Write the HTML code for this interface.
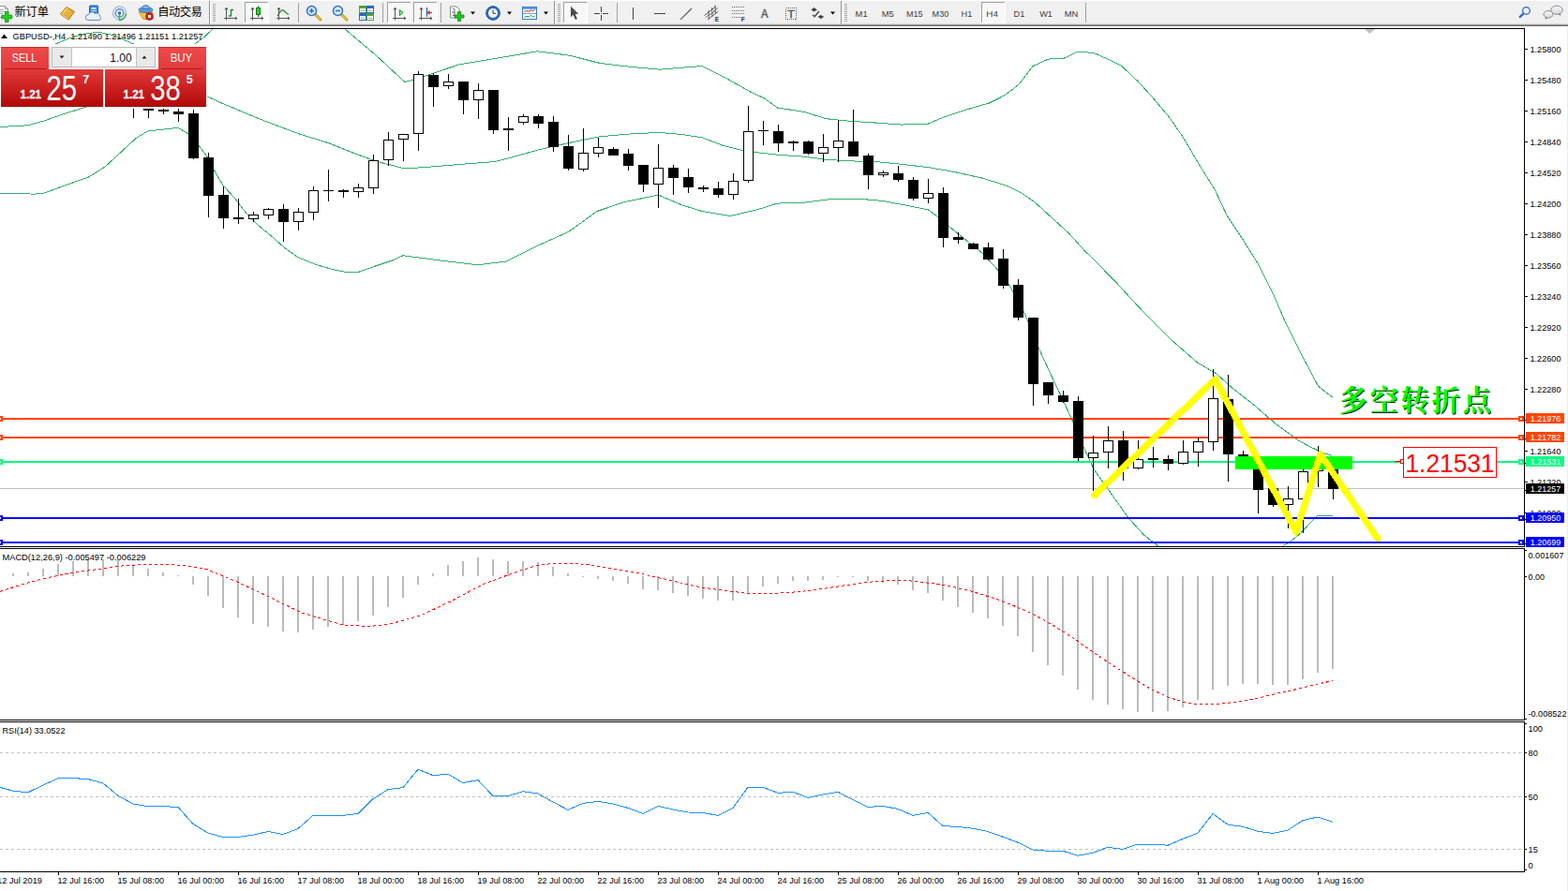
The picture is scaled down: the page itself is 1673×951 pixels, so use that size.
<!DOCTYPE html><html><head><meta charset="utf-8"><title>GBPUSD H4</title>
<style>html,body{margin:0;padding:0;background:#fff;overflow:hidden}svg{display:block}text{font-family:"Liberation Sans",sans-serif}</style></head><body>
<svg width="1673" height="951" viewBox="0 0 1673 951" font-family="Liberation Sans, sans-serif">
<defs>
<linearGradient id="gr" x1="0" y1="0" x2="0" y2="1"><stop offset="0" stop-color="#e03a3a"/><stop offset="0.5" stop-color="#cc2020"/><stop offset="1" stop-color="#b00808"/></linearGradient>
<linearGradient id="gt" x1="0" y1="0" x2="0" y2="1"><stop offset="0" stop-color="#f04a4a"/><stop offset="1" stop-color="#e23a3a"/></linearGradient>
<linearGradient id="gb" x1="0" y1="0" x2="0" y2="1"><stop offset="0" stop-color="#f4f4f4"/><stop offset="1" stop-color="#dcdcdc"/></linearGradient>
<clipPath id="cm"><rect x="0" y="31" width="1626" height="552"/></clipPath>
<linearGradient id="gbub" x1="0" y1="0" x2="0" y2="1"><stop offset="0" stop-color="#fafafa"/><stop offset="1" stop-color="#d4d4dc"/></linearGradient>
</defs>
<rect width="1673" height="951" fill="#fff"/>
<g shape-rendering="crispEdges">
<rect x="0" y="30" width="1627" height="1" fill="#000"/>
<rect x="1626" y="30" width="1" height="554" fill="#000"/>
<rect x="1626" y="585" width="1" height="184" fill="#000"/>
<rect x="1626" y="770" width="1" height="161" fill="#000"/>
<rect x="1672" y="28" width="1" height="923" fill="#ececec"/>
<rect x="0" y="583" width="1627" height="1" fill="#000"/>
<rect x="0" y="585" width="1627" height="1" fill="#000"/>
<rect x="0" y="768" width="1627" height="1" fill="#000"/>
<rect x="0" y="770" width="1627" height="1" fill="#000"/>
<rect x="0" y="930" width="1627" height="1" fill="#000"/>
</g>
<g clip-path="url(#cm)" fill="none" stroke="#34b06c" stroke-width="1" shape-rendering="crispEdges">
<polyline points="0.0,64.0 30.0,57.0 58.6,47.2 70.0,42.5 80.0,38.8 93.7,35.5 101.0,34.8 108.8,35.0 118.0,37.0 130.0,41.5 144.0,47.7 160.0,54.0 175.0,57.0 190.0,55.0 200.0,51.5 207.5,47.2 217.6,39.7 227.0,31.0 232.0,26.0"/>
<polyline points="363.0,26.0 368.0,31.0 400.0,58.0 432.0,87.6 445.0,84.0 490.0,68.8 540.0,60.5 573.5,54.8 607.0,59.1 640.4,67.5 673.9,71.5 704.0,74.2 727.4,72.2 749.2,70.5 774.3,83.2 801.1,98.3 814.5,104.3 829.5,115.0 858.0,119.4 881.4,126.7 908.2,129.4 935.0,131.1 961.8,133.1 990.2,132.1 1008.6,124.4 1035.4,115.7 1055.5,110.0 1072.2,101.6 1087.3,89.9 1101.8,70.8 1118.5,63.1 1135.3,62.1 1150.3,55.1 1167.0,56.5 1183.8,63.8 1197.2,70.8 1214.0,86.6 1230.7,105.0 1247.4,125.0 1262.5,146.8 1279.2,175.3 1296.0,202.0 1309.3,230.5 1326.0,255.6 1342.8,282.4 1357.9,312.5 1371.3,343.5 1388.0,377.0 1406.4,412.1 1421.5,423.9"/>
<polyline points="0.0,135.5 30.0,133.8 47.6,128.8 65.1,122.5 85.1,116.3 120.0,105.0 160.0,98.0 200.0,100.0 221.8,103.3 236.5,110.0 275.3,126.3 317.9,142.5 350.4,152.6 375.5,162.6 395.5,170.1 410.5,174.6 418.0,176.3 432.0,180.0 460.0,178.0 490.0,175.5 527.7,172.6 540.0,169.6 573.5,160.2 607.0,152.5 640.4,145.8 673.9,142.8 704.0,141.5 727.4,143.5 749.2,146.8 771.0,155.2 794.4,161.2 829.5,165.2 858.0,167.2 881.4,170.3 908.2,171.9 935.0,172.6 961.8,175.3 990.2,178.6 1018.7,183.6 1048.8,190.3 1075.6,198.7 1089.0,205.4 1103.5,215.4 1120.2,230.5 1140.3,248.9 1157.0,267.3 1173.8,284.0 1190.5,301.0 1207.2,319.2 1220.6,333.5 1250.8,363.6 1277.5,387.0 1297.6,398.7 1314.4,413.8 1337.8,432.2 1361.2,452.3 1385.3,470.0 1397.9,476.9 1413.0,483.9 1421.5,486.4"/>
<polyline points="0.0,206.4 37.5,207.1 47.6,205.9 70.1,197.6 95.1,188.8 112.6,177.6 130.2,161.3 145.2,147.5 157.7,140.0 175.2,138.0 190.2,136.3 200.3,142.5 212.8,156.3 220.3,166.3 229.0,182.6 237.8,197.6 250.3,211.4 262.8,227.6 275.3,240.2 290.4,252.7 302.9,263.9 317.9,274.7 337.9,282.7 355.4,287.7 368.0,290.2 383.0,290.2 400.5,284.0 418.0,278.2 430.0,272.8 470.0,278.0 510.0,282.8 540.0,279.0 573.5,262.3 607.0,247.2 637.0,225.5 667.2,215.4 702.3,208.1 727.4,218.8 749.2,225.5 779.3,230.5 807.8,223.8 829.5,217.1 858.0,216.1 888.1,212.4 914.9,212.1 941.7,214.4 968.5,219.5 990.2,223.8 1001.9,232.2 1015.3,243.9 1032.0,257.3 1048.8,270.7 1065.5,289.1 1076.5,303.5 1092.5,332.6 1107.6,370.1 1122.6,402.7 1142.6,445.2 1156.4,477.7 1167.0,500.8 1183.8,524.3 1203.9,552.7 1220.6,571.1 1235.7,582.8 1240.0,586.0"/>
<polyline points="1364.0,586.0 1368.9,582.9 1377.1,577.8 1387.8,569.0 1396.7,559.5 1405.5,550.7 1421.9,550.1"/>
</g>
<rect x="0" y="521" width="1626" height="1" fill="#c0c0c0" shape-rendering="crispEdges"/>
<rect x="0" y="446" width="1626" height="2" fill="#ff4500" shape-rendering="crispEdges"/>
<rect x="-3" y="444" width="6" height="6" fill="#ff4500" shape-rendering="crispEdges"/>
<rect x="-1" y="446" width="2" height="2" fill="#fff" shape-rendering="crispEdges"/>
<rect x="1620" y="444" width="6" height="6" fill="#ff4500" shape-rendering="crispEdges"/>
<rect x="1622" y="446" width="2" height="2" fill="#fff" shape-rendering="crispEdges"/>
<rect x="0" y="466" width="1626" height="2" fill="#ff4500" shape-rendering="crispEdges"/>
<rect x="-3" y="464" width="6" height="6" fill="#ff4500" shape-rendering="crispEdges"/>
<rect x="-1" y="466" width="2" height="2" fill="#fff" shape-rendering="crispEdges"/>
<rect x="1620" y="464" width="6" height="6" fill="#ff4500" shape-rendering="crispEdges"/>
<rect x="1622" y="466" width="2" height="2" fill="#fff" shape-rendering="crispEdges"/>
<rect x="0" y="492" width="1626" height="2" fill="#00ff7f" shape-rendering="crispEdges"/>
<rect x="-3" y="490" width="6" height="6" fill="#00ff7f" shape-rendering="crispEdges"/>
<rect x="-1" y="492" width="2" height="2" fill="#fff" shape-rendering="crispEdges"/>
<rect x="1620" y="490" width="6" height="6" fill="#00ff7f" shape-rendering="crispEdges"/>
<rect x="1622" y="492" width="2" height="2" fill="#fff" shape-rendering="crispEdges"/>
<rect x="0" y="552" width="1626" height="2" fill="#0000ff" shape-rendering="crispEdges"/>
<rect x="-3" y="550" width="6" height="6" fill="#0000ff" shape-rendering="crispEdges"/>
<rect x="-1" y="552" width="2" height="2" fill="#fff" shape-rendering="crispEdges"/>
<rect x="1620" y="550" width="6" height="6" fill="#0000ff" shape-rendering="crispEdges"/>
<rect x="1622" y="552" width="2" height="2" fill="#fff" shape-rendering="crispEdges"/>
<rect x="0" y="578" width="1626" height="2" fill="#0000ff" shape-rendering="crispEdges"/>
<rect x="-3" y="576" width="6" height="6" fill="#0000ff" shape-rendering="crispEdges"/>
<rect x="-1" y="578" width="2" height="2" fill="#fff" shape-rendering="crispEdges"/>
<rect x="1620" y="576" width="6" height="6" fill="#0000ff" shape-rendering="crispEdges"/>
<rect x="1622" y="578" width="2" height="2" fill="#fff" shape-rendering="crispEdges"/>
<g shape-rendering="crispEdges">
<rect x="142" y="116" width="1" height="10" fill="#000"/>
<rect x="158" y="116" width="1" height="10" fill="#000"/>
<rect x="153" y="116" width="11" height="2" fill="#000"/>
<rect x="174" y="116" width="1" height="6" fill="#000"/>
<rect x="169" y="117" width="11" height="2" fill="#000"/>
<rect x="190" y="116" width="1" height="14" fill="#000"/>
<rect x="185" y="119" width="11" height="3" fill="#000"/>
<rect x="206" y="117" width="1" height="53" fill="#000"/>
<rect x="201" y="121" width="11" height="48" fill="#000"/>
<rect x="222" y="163" width="1" height="69" fill="#000"/>
<rect x="217" y="168" width="11" height="41" fill="#000"/>
<rect x="238" y="199" width="1" height="45" fill="#000"/>
<rect x="233" y="208" width="11" height="25" fill="#000"/>
<rect x="254" y="212" width="1" height="27" fill="#000"/>
<rect x="249" y="232" width="11" height="2" fill="#000"/>
<rect x="270" y="226" width="1" height="11" fill="#000"/>
<rect x="265" y="229" width="11" height="5" fill="#000"/>
<rect x="266" y="230" width="9" height="3" fill="#fff"/>
<rect x="286" y="222" width="1" height="12" fill="#000"/>
<rect x="281" y="223" width="11" height="7" fill="#000"/>
<rect x="282" y="224" width="9" height="5" fill="#fff"/>
<rect x="302" y="218" width="1" height="40" fill="#000"/>
<rect x="297" y="223" width="11" height="14" fill="#000"/>
<rect x="318" y="222" width="1" height="24" fill="#000"/>
<rect x="313" y="226" width="11" height="11" fill="#000"/>
<rect x="314" y="227" width="9" height="9" fill="#fff"/>
<rect x="334" y="199" width="1" height="36" fill="#000"/>
<rect x="329" y="203" width="11" height="24" fill="#000"/>
<rect x="330" y="204" width="9" height="22" fill="#fff"/>
<rect x="350" y="181" width="1" height="34" fill="#000"/>
<rect x="345" y="203" width="11" height="1" fill="#000"/>
<rect x="366" y="202" width="1" height="9" fill="#000"/>
<rect x="361" y="203" width="11" height="2" fill="#000"/>
<rect x="382" y="196" width="1" height="15" fill="#000"/>
<rect x="377" y="200" width="11" height="5" fill="#000"/>
<rect x="378" y="201" width="9" height="3" fill="#fff"/>
<rect x="398" y="165" width="1" height="42" fill="#000"/>
<rect x="393" y="171" width="11" height="30" fill="#000"/>
<rect x="394" y="172" width="9" height="28" fill="#fff"/>
<rect x="414" y="141" width="1" height="36" fill="#000"/>
<rect x="409" y="149" width="11" height="22" fill="#000"/>
<rect x="410" y="150" width="9" height="20" fill="#fff"/>
<rect x="430" y="143" width="1" height="29" fill="#000"/>
<rect x="425" y="143" width="11" height="6" fill="#000"/>
<rect x="426" y="144" width="9" height="4" fill="#fff"/>
<rect x="446" y="76" width="1" height="85" fill="#000"/>
<rect x="441" y="79" width="11" height="64" fill="#000"/>
<rect x="442" y="80" width="9" height="62" fill="#fff"/>
<rect x="462" y="78" width="1" height="36" fill="#000"/>
<rect x="457" y="80" width="11" height="13" fill="#000"/>
<rect x="478" y="79" width="1" height="16" fill="#000"/>
<rect x="473" y="87" width="11" height="5" fill="#000"/>
<rect x="474" y="88" width="9" height="3" fill="#fff"/>
<rect x="494" y="87" width="1" height="35" fill="#000"/>
<rect x="489" y="87" width="11" height="20" fill="#000"/>
<rect x="510" y="89" width="1" height="38" fill="#000"/>
<rect x="505" y="96" width="11" height="11" fill="#000"/>
<rect x="506" y="97" width="9" height="9" fill="#fff"/>
<rect x="526" y="96" width="1" height="47" fill="#000"/>
<rect x="521" y="96" width="11" height="43" fill="#000"/>
<rect x="542" y="125" width="1" height="36" fill="#000"/>
<rect x="537" y="137" width="11" height="2" fill="#000"/>
<rect x="558" y="122" width="1" height="11" fill="#000"/>
<rect x="553" y="124" width="11" height="7" fill="#000"/>
<rect x="554" y="125" width="9" height="5" fill="#fff"/>
<rect x="574" y="122" width="1" height="15" fill="#000"/>
<rect x="569" y="124" width="11" height="8" fill="#000"/>
<rect x="590" y="124" width="1" height="38" fill="#000"/>
<rect x="585" y="130" width="11" height="27" fill="#000"/>
<rect x="606" y="144" width="1" height="38" fill="#000"/>
<rect x="601" y="156" width="11" height="24" fill="#000"/>
<rect x="622" y="137" width="1" height="46" fill="#000"/>
<rect x="617" y="163" width="11" height="18" fill="#000"/>
<rect x="618" y="164" width="9" height="16" fill="#fff"/>
<rect x="638" y="147" width="1" height="21" fill="#000"/>
<rect x="633" y="157" width="11" height="7" fill="#000"/>
<rect x="634" y="158" width="9" height="5" fill="#fff"/>
<rect x="654" y="157" width="1" height="9" fill="#000"/>
<rect x="649" y="159" width="11" height="7" fill="#000"/>
<rect x="670" y="159" width="1" height="23" fill="#000"/>
<rect x="665" y="164" width="11" height="13" fill="#000"/>
<rect x="686" y="176" width="1" height="29" fill="#000"/>
<rect x="681" y="176" width="11" height="21" fill="#000"/>
<rect x="702" y="154" width="1" height="68" fill="#000"/>
<rect x="697" y="179" width="11" height="18" fill="#000"/>
<rect x="698" y="180" width="9" height="16" fill="#fff"/>
<rect x="718" y="176" width="1" height="32" fill="#000"/>
<rect x="713" y="179" width="11" height="11" fill="#000"/>
<rect x="734" y="180" width="1" height="26" fill="#000"/>
<rect x="729" y="189" width="11" height="11" fill="#000"/>
<rect x="750" y="198" width="1" height="7" fill="#000"/>
<rect x="745" y="200" width="11" height="2" fill="#000"/>
<rect x="766" y="194" width="1" height="17" fill="#000"/>
<rect x="761" y="201" width="11" height="7" fill="#000"/>
<rect x="782" y="185" width="1" height="28" fill="#000"/>
<rect x="777" y="193" width="11" height="15" fill="#000"/>
<rect x="778" y="194" width="9" height="13" fill="#fff"/>
<rect x="798" y="113" width="1" height="82" fill="#000"/>
<rect x="793" y="140" width="11" height="53" fill="#000"/>
<rect x="794" y="141" width="9" height="51" fill="#fff"/>
<rect x="814" y="129" width="1" height="26" fill="#000"/>
<rect x="809" y="139" width="11" height="1" fill="#000"/>
<rect x="830" y="133" width="1" height="29" fill="#000"/>
<rect x="825" y="140" width="11" height="13" fill="#000"/>
<rect x="846" y="150" width="1" height="11" fill="#000"/>
<rect x="841" y="151" width="11" height="2" fill="#000"/>
<rect x="862" y="150" width="1" height="15" fill="#000"/>
<rect x="857" y="151" width="11" height="13" fill="#000"/>
<rect x="878" y="143" width="1" height="30" fill="#000"/>
<rect x="873" y="157" width="11" height="7" fill="#000"/>
<rect x="874" y="158" width="9" height="5" fill="#fff"/>
<rect x="894" y="128" width="1" height="45" fill="#000"/>
<rect x="889" y="150" width="11" height="8" fill="#000"/>
<rect x="890" y="151" width="9" height="6" fill="#fff"/>
<rect x="910" y="117" width="1" height="50" fill="#000"/>
<rect x="905" y="151" width="11" height="16" fill="#000"/>
<rect x="926" y="164" width="1" height="38" fill="#000"/>
<rect x="921" y="166" width="11" height="21" fill="#000"/>
<rect x="942" y="182" width="1" height="7" fill="#000"/>
<rect x="937" y="184" width="11" height="3" fill="#000"/>
<rect x="938" y="185" width="9" height="1" fill="#fff"/>
<rect x="958" y="177" width="1" height="17" fill="#000"/>
<rect x="953" y="185" width="11" height="7" fill="#000"/>
<rect x="974" y="189" width="1" height="25" fill="#000"/>
<rect x="969" y="192" width="11" height="20" fill="#000"/>
<rect x="990" y="191" width="1" height="26" fill="#000"/>
<rect x="985" y="206" width="11" height="6" fill="#000"/>
<rect x="986" y="207" width="9" height="4" fill="#fff"/>
<rect x="1006" y="200" width="1" height="64" fill="#000"/>
<rect x="1001" y="206" width="11" height="48" fill="#000"/>
<rect x="1022" y="248" width="1" height="12" fill="#000"/>
<rect x="1017" y="253" width="11" height="3" fill="#000"/>
<rect x="1038" y="259" width="1" height="7" fill="#000"/>
<rect x="1033" y="260" width="11" height="6" fill="#000"/>
<rect x="1054" y="259" width="1" height="19" fill="#000"/>
<rect x="1049" y="264" width="11" height="13" fill="#000"/>
<rect x="1070" y="266" width="1" height="42" fill="#000"/>
<rect x="1065" y="276" width="11" height="29" fill="#000"/>
<rect x="1086" y="298" width="1" height="44" fill="#000"/>
<rect x="1081" y="304" width="11" height="35" fill="#000"/>
<rect x="1102" y="339" width="1" height="94" fill="#000"/>
<rect x="1097" y="339" width="11" height="71" fill="#000"/>
<rect x="1118" y="408" width="1" height="23" fill="#000"/>
<rect x="1113" y="408" width="11" height="14" fill="#000"/>
<rect x="1134" y="417" width="1" height="13" fill="#000"/>
<rect x="1129" y="422" width="11" height="7" fill="#000"/>
<rect x="1150" y="423" width="1" height="69" fill="#000"/>
<rect x="1145" y="428" width="11" height="61" fill="#000"/>
<rect x="1166" y="465" width="1" height="59" fill="#000"/>
<rect x="1161" y="483" width="11" height="6" fill="#000"/>
<rect x="1162" y="484" width="9" height="4" fill="#fff"/>
<rect x="1182" y="455" width="1" height="45" fill="#000"/>
<rect x="1177" y="470" width="11" height="13" fill="#000"/>
<rect x="1178" y="471" width="9" height="11" fill="#fff"/>
<rect x="1198" y="460" width="1" height="53" fill="#000"/>
<rect x="1193" y="470" width="11" height="30" fill="#000"/>
<rect x="1214" y="470" width="1" height="31" fill="#000"/>
<rect x="1209" y="490" width="11" height="10" fill="#000"/>
<rect x="1210" y="491" width="9" height="8" fill="#fff"/>
<rect x="1230" y="477" width="1" height="22" fill="#000"/>
<rect x="1225" y="489" width="11" height="2" fill="#000"/>
<rect x="1246" y="486" width="1" height="16" fill="#000"/>
<rect x="1241" y="490" width="11" height="5" fill="#000"/>
<rect x="1262" y="470" width="1" height="26" fill="#000"/>
<rect x="1257" y="482" width="11" height="13" fill="#000"/>
<rect x="1258" y="483" width="9" height="11" fill="#fff"/>
<rect x="1278" y="467" width="1" height="31" fill="#000"/>
<rect x="1273" y="471" width="11" height="12" fill="#000"/>
<rect x="1274" y="472" width="9" height="10" fill="#fff"/>
<rect x="1294" y="394" width="1" height="87" fill="#000"/>
<rect x="1289" y="425" width="11" height="47" fill="#000"/>
<rect x="1290" y="426" width="9" height="45" fill="#fff"/>
<rect x="1310" y="400" width="1" height="114" fill="#000"/>
<rect x="1305" y="426" width="11" height="59" fill="#000"/>
<rect x="1326" y="481" width="1" height="11" fill="#000"/>
<rect x="1321" y="485" width="11" height="2" fill="#000"/>
<rect x="1342" y="487" width="1" height="61" fill="#000"/>
<rect x="1337" y="487" width="11" height="36" fill="#000"/>
<rect x="1358" y="521" width="1" height="20" fill="#000"/>
<rect x="1353" y="521" width="11" height="18" fill="#000"/>
<rect x="1374" y="519" width="1" height="45" fill="#000"/>
<rect x="1369" y="532" width="11" height="7" fill="#000"/>
<rect x="1370" y="533" width="9" height="5" fill="#fff"/>
<rect x="1390" y="501" width="1" height="68" fill="#000"/>
<rect x="1385" y="503" width="11" height="30" fill="#000"/>
<rect x="1386" y="504" width="9" height="28" fill="#fff"/>
<rect x="1406" y="476" width="1" height="44" fill="#000"/>
<rect x="1401" y="496" width="11" height="7" fill="#000"/>
<rect x="1402" y="497" width="9" height="5" fill="#fff"/>
<rect x="1422" y="496" width="1" height="37" fill="#000"/>
<rect x="1417" y="496" width="11" height="26" fill="#000"/>
</g>
<rect x="1318" y="487" width="125" height="14" fill="#00ff00" shape-rendering="crispEdges"/>
<polyline points="1167.6,528.8 1296.5,404.8 1383,568 1408.6,484.6 1469.8,574.7" fill="none" stroke="#ffff00" stroke-width="7" stroke-linejoin="round" stroke-linecap="round" shape-rendering="crispEdges"/>
<rect x="1497.5" y="477.5" width="99" height="32" fill="#fff" stroke="#ff0000" stroke-width="1" shape-rendering="crispEdges"/>
<rect x="1488" y="492" width="9" height="1" fill="#ff0000" shape-rendering="crispEdges"/>
<rect x="1494.5" y="490.5" width="3" height="4" fill="#fff" stroke="#ff0000" stroke-width="1" shape-rendering="crispEdges"/>
<text x="1499.5" y="504" font-size="27" fill="#ff0000" textLength="95" lengthAdjust="spacingAndGlyphs" >1.21531</text>
<text x="1429.6 1462.6 1495.6 1528.6 1561.6" y="439.2" font-size="30.5" font-weight="bold" fill="#002800" style="font-family:'Liberation Serif','Noto Serif CJK SC',serif">多空转折点</text>
<text x="1428.4 1461.4 1494.4 1527.4 1560.4" y="438" font-size="30.5" font-weight="bold" fill="#00ff00" style="font-family:'Liberation Serif','Noto Serif CJK SC',serif">多空转折点</text>
<path d="M1456,31 L1467,31 L1461.5,36 Z" fill="#c0c0c0"/>
<g shape-rendering="crispEdges" fill="#000">
<rect x="1627" y="52" width="3" height="1"/>
<rect x="1627" y="85" width="3" height="1"/>
<rect x="1627" y="118" width="3" height="1"/>
<rect x="1627" y="151" width="3" height="1"/>
<rect x="1627" y="184" width="3" height="1"/>
<rect x="1627" y="217" width="3" height="1"/>
<rect x="1627" y="250" width="3" height="1"/>
<rect x="1627" y="283" width="3" height="1"/>
<rect x="1627" y="316" width="3" height="1"/>
<rect x="1627" y="349" width="3" height="1"/>
<rect x="1627" y="382" width="3" height="1"/>
<rect x="1627" y="415" width="3" height="1"/>
<rect x="1627" y="448" width="3" height="1"/>
<rect x="1627" y="481" width="3" height="1"/>
<rect x="1627" y="514" width="3" height="1"/>
<rect x="1627" y="547" width="3" height="1"/>
</g>
<text x="1632.5" y="55.5" font-size="9.3" fill="#000" textLength="33" lengthAdjust="spacingAndGlyphs" >1.25800</text>
<text x="1632.5" y="88.5" font-size="9.3" fill="#000" textLength="33" lengthAdjust="spacingAndGlyphs" >1.25480</text>
<text x="1632.5" y="121.5" font-size="9.3" fill="#000" textLength="33" lengthAdjust="spacingAndGlyphs" >1.25160</text>
<text x="1632.5" y="154.5" font-size="9.3" fill="#000" textLength="33" lengthAdjust="spacingAndGlyphs" >1.24840</text>
<text x="1632.5" y="187.5" font-size="9.3" fill="#000" textLength="33" lengthAdjust="spacingAndGlyphs" >1.24520</text>
<text x="1632.5" y="220.5" font-size="9.3" fill="#000" textLength="33" lengthAdjust="spacingAndGlyphs" >1.24200</text>
<text x="1632.5" y="253.5" font-size="9.3" fill="#000" textLength="33" lengthAdjust="spacingAndGlyphs" >1.23880</text>
<text x="1632.5" y="286.5" font-size="9.3" fill="#000" textLength="33" lengthAdjust="spacingAndGlyphs" >1.23560</text>
<text x="1632.5" y="319.5" font-size="9.3" fill="#000" textLength="33" lengthAdjust="spacingAndGlyphs" >1.23240</text>
<text x="1632.5" y="352.5" font-size="9.3" fill="#000" textLength="33" lengthAdjust="spacingAndGlyphs" >1.22920</text>
<text x="1632.5" y="385.5" font-size="9.3" fill="#000" textLength="33" lengthAdjust="spacingAndGlyphs" >1.22600</text>
<text x="1632.5" y="418.5" font-size="9.3" fill="#000" textLength="33" lengthAdjust="spacingAndGlyphs" >1.22280</text>
<text x="1632.5" y="451.5" font-size="9.3" fill="#000" textLength="33" lengthAdjust="spacingAndGlyphs" >1.21960</text>
<text x="1632.5" y="484.5" font-size="9.3" fill="#000" textLength="33" lengthAdjust="spacingAndGlyphs" >1.21640</text>
<text x="1632.5" y="517.5" font-size="9.3" fill="#000" textLength="33" lengthAdjust="spacingAndGlyphs" >1.21320</text>
<text x="1632.5" y="550.5" font-size="9.3" fill="#000" textLength="33" lengthAdjust="spacingAndGlyphs" >1.21000</text>
<rect x="1628" y="441" width="41" height="11" fill="#ff4500" shape-rendering="crispEdges"/>
<rect x="1627" y="448" width="1" height="1" fill="#000" shape-rendering="crispEdges"/>
<text x="1632.8" y="449.9" font-size="9.3" fill="#fff" textLength="32.5" lengthAdjust="spacingAndGlyphs" >1.21976</text>
<rect x="1628" y="461" width="41" height="11" fill="#ff4500" shape-rendering="crispEdges"/>
<rect x="1627" y="468" width="1" height="1" fill="#000" shape-rendering="crispEdges"/>
<text x="1632.8" y="469.9" font-size="9.3" fill="#fff" textLength="32.5" lengthAdjust="spacingAndGlyphs" >1.21782</text>
<rect x="1628" y="487" width="41" height="11" fill="#00ff7f" shape-rendering="crispEdges"/>
<rect x="1627" y="494" width="1" height="1" fill="#000" shape-rendering="crispEdges"/>
<text x="1632.8" y="495.9" font-size="9.3" fill="#fff" textLength="32.5" lengthAdjust="spacingAndGlyphs" >1.21531</text>
<rect x="1628" y="516" width="41" height="11" fill="#000" shape-rendering="crispEdges"/>
<rect x="1627" y="523" width="1" height="1" fill="#000" shape-rendering="crispEdges"/>
<text x="1632.8" y="524.9" font-size="9.3" fill="#fff" textLength="32.5" lengthAdjust="spacingAndGlyphs" >1.21257</text>
<rect x="1628" y="547" width="41" height="11" fill="#0000ff" shape-rendering="crispEdges"/>
<rect x="1627" y="554" width="1" height="1" fill="#000" shape-rendering="crispEdges"/>
<text x="1632.8" y="555.9" font-size="9.3" fill="#fff" textLength="32.5" lengthAdjust="spacingAndGlyphs" >1.20950</text>
<rect x="1628" y="573" width="41" height="11" fill="#0000ff" shape-rendering="crispEdges"/>
<rect x="1627" y="580" width="1" height="1" fill="#000" shape-rendering="crispEdges"/>
<text x="1632.8" y="581.9" font-size="9.3" fill="#fff" textLength="32.5" lengthAdjust="spacingAndGlyphs" >1.20699</text>
<g shape-rendering="crispEdges" fill="#bbbbbb">
<rect x="13" y="612" width="2" height="3"/>
<rect x="29" y="611" width="2" height="4"/>
<rect x="45" y="607" width="2" height="8"/>
<rect x="61" y="602" width="2" height="13"/>
<rect x="77" y="599" width="2" height="16"/>
<rect x="93" y="597" width="2" height="18"/>
<rect x="109" y="597" width="2" height="18"/>
<rect x="125" y="598" width="2" height="17"/>
<rect x="141" y="602" width="2" height="13"/>
<rect x="157" y="607" width="2" height="8"/>
<rect x="173" y="611" width="2" height="4"/>
<rect x="189" y="614" width="2" height="1"/>
<rect x="205" y="615" width="2" height="9"/>
<rect x="221" y="615" width="2" height="21"/>
<rect x="237" y="615" width="2" height="34"/>
<rect x="253" y="615" width="2" height="44"/>
<rect x="269" y="615" width="2" height="51"/>
<rect x="285" y="615" width="2" height="54"/>
<rect x="301" y="615" width="2" height="59"/>
<rect x="317" y="615" width="2" height="60"/>
<rect x="333" y="615" width="2" height="57"/>
<rect x="349" y="615" width="2" height="54"/>
<rect x="365" y="615" width="2" height="52"/>
<rect x="381" y="615" width="2" height="48"/>
<rect x="397" y="615" width="2" height="42"/>
<rect x="413" y="615" width="2" height="33"/>
<rect x="429" y="615" width="2" height="23"/>
<rect x="445" y="615" width="2" height="9"/>
<rect x="461" y="612" width="2" height="3"/>
<rect x="477" y="603" width="2" height="12"/>
<rect x="493" y="599" width="2" height="16"/>
<rect x="509" y="595" width="2" height="20"/>
<rect x="525" y="597" width="2" height="18"/>
<rect x="541" y="599" width="2" height="16"/>
<rect x="557" y="599" width="2" height="16"/>
<rect x="573" y="600" width="2" height="15"/>
<rect x="589" y="605" width="2" height="10"/>
<rect x="605" y="612" width="2" height="3"/>
<rect x="621" y="615" width="2" height="1"/>
<rect x="637" y="615" width="2" height="3"/>
<rect x="653" y="615" width="2" height="5"/>
<rect x="669" y="615" width="2" height="8"/>
<rect x="685" y="615" width="2" height="14"/>
<rect x="701" y="615" width="2" height="15"/>
<rect x="717" y="615" width="2" height="18"/>
<rect x="733" y="615" width="2" height="21"/>
<rect x="749" y="615" width="2" height="24"/>
<rect x="765" y="615" width="2" height="26"/>
<rect x="781" y="615" width="2" height="26"/>
<rect x="797" y="615" width="2" height="19"/>
<rect x="813" y="615" width="2" height="11"/>
<rect x="829" y="615" width="2" height="8"/>
<rect x="845" y="615" width="2" height="5"/>
<rect x="861" y="615" width="2" height="5"/>
<rect x="877" y="615" width="2" height="4"/>
<rect x="893" y="615" width="2" height="1"/>
<rect x="909" y="615" width="2" height="1"/>
<rect x="925" y="615" width="2" height="5"/>
<rect x="941" y="615" width="2" height="7"/>
<rect x="957" y="615" width="2" height="9"/>
<rect x="973" y="615" width="2" height="15"/>
<rect x="989" y="615" width="2" height="18"/>
<rect x="1005" y="615" width="2" height="26"/>
<rect x="1021" y="615" width="2" height="33"/>
<rect x="1037" y="615" width="2" height="39"/>
<rect x="1053" y="615" width="2" height="45"/>
<rect x="1069" y="615" width="2" height="53"/>
<rect x="1085" y="615" width="2" height="64"/>
<rect x="1101" y="615" width="2" height="81"/>
<rect x="1117" y="615" width="2" height="95"/>
<rect x="1133" y="615" width="2" height="106"/>
<rect x="1149" y="615" width="2" height="121"/>
<rect x="1165" y="615" width="2" height="132"/>
<rect x="1181" y="615" width="2" height="137"/>
<rect x="1197" y="615" width="2" height="142"/>
<rect x="1213" y="615" width="2" height="145"/>
<rect x="1229" y="615" width="2" height="145"/>
<rect x="1245" y="615" width="2" height="144"/>
<rect x="1261" y="615" width="2" height="140"/>
<rect x="1277" y="615" width="2" height="132"/>
<rect x="1293" y="615" width="2" height="121"/>
<rect x="1309" y="615" width="2" height="117"/>
<rect x="1325" y="615" width="2" height="115"/>
<rect x="1341" y="615" width="2" height="115"/>
<rect x="1357" y="615" width="2" height="116"/>
<rect x="1373" y="615" width="2" height="116"/>
<rect x="1389" y="615" width="2" height="110"/>
<rect x="1405" y="615" width="2" height="103"/>
<rect x="1421" y="615" width="2" height="99"/>
</g>
<polyline points="0.0,631.2 33.5,620.8 67.0,613.1 100.0,608.1 134.0,603.4 160.7,602.4 187.0,603.0 201.0,604.0 221.0,607.8 254.0,621.5 288.0,637.6 321.0,653.6 348.0,662.0 368.0,667.4 395.0,668.4 415.0,666.4 448.5,657.0 482.0,641.3 515.5,623.5 540.0,614.5 556.7,608.5 573.5,603.4 590.0,601.4 613.6,601.4 633.7,603.4 653.8,607.4 680.6,611.5 700.7,616.2 720.8,620.8 747.5,626.9 774.3,630.5 797.7,633.2 827.9,633.2 854.6,631.5 881.4,627.9 908.2,623.8 931.6,620.8 958.4,619.2 975.1,620.2 1008.6,624.5 1035.4,630.9 1062.2,638.9 1082.3,646.9 1101.3,655.1 1122.5,666.8 1143.8,680.0 1165.0,695.2 1186.3,709.7 1207.6,723.2 1228.9,736.0 1246.6,744.1 1264.3,749.8 1278.5,751.9 1296.2,751.9 1314.0,749.8 1342.3,745.2 1363.6,739.9 1384.8,735.3 1406.1,729.9 1422.0,726.7" fill="none" stroke="#ff0000" stroke-width="1" stroke-dasharray="3,3" shape-rendering="crispEdges"/>
<text x="1630.5" y="596" font-size="9.3" fill="#000" textLength="38" lengthAdjust="spacingAndGlyphs" >0.001607</text>
<text x="1630.5" y="618.7" font-size="9.3" fill="#000" textLength="17.5" lengthAdjust="spacingAndGlyphs" >0.00</text>
<text x="1630.5" y="764.5" font-size="9.3" fill="#000" textLength="41" lengthAdjust="spacingAndGlyphs" >-0.008522</text>
<g shape-rendering="crispEdges" fill="#000"><rect x="1627" y="587" width="2" height="1"/><rect x="1627" y="615" width="2" height="1"/><rect x="1627" y="767" width="2" height="1"/><rect x="1627" y="772" width="2" height="1"/><rect x="1627" y="803" width="2" height="1"/><rect x="1627" y="850" width="2" height="1"/><rect x="1627" y="906" width="2" height="1"/><rect x="1627" y="928" width="2" height="1"/></g>
<g shape-rendering="crispEdges" fill="none" stroke="#c0c0c0" stroke-dasharray="3,3">
<line x1="0" y1="803.5" x2="1626" y2="803.5"/>
<line x1="0" y1="850.5" x2="1626" y2="850.5"/>
<line x1="0" y1="906.5" x2="1626" y2="906.5"/>
</g>
<polyline points="0.0,840.3 14.0,844.3 30.0,845.7 46.0,838.0 62.0,830.6 78.0,830.6 94.0,831.6 110.0,836.0 126.0,849.4 142.0,858.0 158.0,860.7 174.0,860.7 190.0,861.4 206.0,879.5 222.0,889.2 238.0,893.5 254.0,893.5 270.0,891.2 286.0,887.5 302.0,890.5 318.0,884.5 334.0,870.4 350.0,870.4 366.0,870.4 382.0,868.4 398.0,852.7 414.0,842.7 430.0,840.6 446.0,821.2 462.0,827.6 478.0,826.3 494.0,835.6 510.0,832.6 526.0,849.7 542.0,849.7 558.0,844.7 574.0,847.0 590.0,856.0 606.0,864.4 622.0,857.4 638.0,855.4 654.0,858.0 670.0,862.4 686.0,868.4 702.0,860.4 718.0,864.0 734.0,867.0 750.0,867.4 766.0,870.4 782.0,862.4 798.0,840.3 814.0,840.3 830.0,846.3 846.0,845.3 862.0,851.4 878.0,848.0 894.0,845.3 910.0,853.4 926.0,861.4 942.0,860.4 958.0,863.4 974.0,870.4 990.0,867.4 1006.0,881.5 1022.0,882.5 1038.0,884.2 1054.0,887.5 1070.0,893.2 1086.0,899.2 1102.0,907.1 1118.0,908.2 1134.0,908.2 1150.0,913.2 1166.0,910.3 1182.0,904.3 1198.0,906.4 1214.0,901.1 1230.0,901.1 1246.0,902.2 1262.0,895.4 1278.0,889.1 1294.0,868.5 1310.0,880.2 1326.0,882.3 1342.0,887.3 1358.0,889.4 1374.0,886.2 1390.0,875.6 1406.0,872.0 1422.0,877.4" fill="none" stroke="#1e90ff" stroke-width="1" shape-rendering="crispEdges"/>
<text x="1630.5" y="780.5" font-size="9.3" fill="#000" >100</text>
<text x="1630.5" y="806.5" font-size="9.3" fill="#000" >80</text>
<text x="1630.5" y="854.0" font-size="9.3" fill="#000" >50</text>
<text x="1630.5" y="910.0" font-size="9.3" fill="#000" >15</text>
<text x="1630.5" y="927.0" font-size="9.3" fill="#000" >0</text>
<g shape-rendering="crispEdges" fill="#000">
<rect x="62" y="931" width="1" height="3"/>
<rect x="126" y="931" width="1" height="3"/>
<rect x="190" y="931" width="1" height="3"/>
<rect x="254" y="931" width="1" height="3"/>
<rect x="318" y="931" width="1" height="3"/>
<rect x="382" y="931" width="1" height="3"/>
<rect x="446" y="931" width="1" height="3"/>
<rect x="510" y="931" width="1" height="3"/>
<rect x="574" y="931" width="1" height="3"/>
<rect x="638" y="931" width="1" height="3"/>
<rect x="702" y="931" width="1" height="3"/>
<rect x="766" y="931" width="1" height="3"/>
<rect x="830" y="931" width="1" height="3"/>
<rect x="894" y="931" width="1" height="3"/>
<rect x="958" y="931" width="1" height="3"/>
<rect x="1022" y="931" width="1" height="3"/>
<rect x="1086" y="931" width="1" height="3"/>
<rect x="1150" y="931" width="1" height="3"/>
<rect x="1214" y="931" width="1" height="3"/>
<rect x="1278" y="931" width="1" height="3"/>
<rect x="1342" y="931" width="1" height="3"/>
<rect x="1406" y="931" width="1" height="3"/>
</g>
<text x="-3" y="943" font-size="8.2" fill="#000" textLength="48" lengthAdjust="spacingAndGlyphs" >12 Jul 2019</text>
<text x="61.5" y="943" font-size="8.2" fill="#000" textLength="49.5" lengthAdjust="spacingAndGlyphs" >12 Jul 16:00</text>
<text x="125.5" y="943" font-size="8.2" fill="#000" textLength="49.5" lengthAdjust="spacingAndGlyphs" >15 Jul 08:00</text>
<text x="189.5" y="943" font-size="8.2" fill="#000" textLength="49.5" lengthAdjust="spacingAndGlyphs" >16 Jul 00:00</text>
<text x="253.5" y="943" font-size="8.2" fill="#000" textLength="49.5" lengthAdjust="spacingAndGlyphs" >16 Jul 16:00</text>
<text x="317.5" y="943" font-size="8.2" fill="#000" textLength="49.5" lengthAdjust="spacingAndGlyphs" >17 Jul 08:00</text>
<text x="381.5" y="943" font-size="8.2" fill="#000" textLength="49.5" lengthAdjust="spacingAndGlyphs" >18 Jul 00:00</text>
<text x="445.5" y="943" font-size="8.2" fill="#000" textLength="49.5" lengthAdjust="spacingAndGlyphs" >18 Jul 16:00</text>
<text x="509.5" y="943" font-size="8.2" fill="#000" textLength="49.5" lengthAdjust="spacingAndGlyphs" >19 Jul 08:00</text>
<text x="573.5" y="943" font-size="8.2" fill="#000" textLength="49.5" lengthAdjust="spacingAndGlyphs" >22 Jul 00:00</text>
<text x="637.5" y="943" font-size="8.2" fill="#000" textLength="49.5" lengthAdjust="spacingAndGlyphs" >22 Jul 16:00</text>
<text x="701.5" y="943" font-size="8.2" fill="#000" textLength="49.5" lengthAdjust="spacingAndGlyphs" >23 Jul 08:00</text>
<text x="765.5" y="943" font-size="8.2" fill="#000" textLength="49.5" lengthAdjust="spacingAndGlyphs" >24 Jul 00:00</text>
<text x="829.5" y="943" font-size="8.2" fill="#000" textLength="49.5" lengthAdjust="spacingAndGlyphs" >24 Jul 16:00</text>
<text x="893.5" y="943" font-size="8.2" fill="#000" textLength="49.5" lengthAdjust="spacingAndGlyphs" >25 Jul 08:00</text>
<text x="957.5" y="943" font-size="8.2" fill="#000" textLength="49.5" lengthAdjust="spacingAndGlyphs" >26 Jul 00:00</text>
<text x="1021.5" y="943" font-size="8.2" fill="#000" textLength="49.5" lengthAdjust="spacingAndGlyphs" >26 Jul 16:00</text>
<text x="1085.5" y="943" font-size="8.2" fill="#000" textLength="49.5" lengthAdjust="spacingAndGlyphs" >29 Jul 08:00</text>
<text x="1149.5" y="943" font-size="8.2" fill="#000" textLength="49.5" lengthAdjust="spacingAndGlyphs" >30 Jul 00:00</text>
<text x="1213.5" y="943" font-size="8.2" fill="#000" textLength="49.5" lengthAdjust="spacingAndGlyphs" >30 Jul 16:00</text>
<text x="1277.5" y="943" font-size="8.2" fill="#000" textLength="49.5" lengthAdjust="spacingAndGlyphs" >31 Jul 08:00</text>
<text x="1341.5" y="943" font-size="8.2" fill="#000" textLength="49.5" lengthAdjust="spacingAndGlyphs" >1 Aug 00:00</text>
<text x="1405.5" y="943" font-size="8.2" fill="#000" textLength="49.5" lengthAdjust="spacingAndGlyphs" >1 Aug 16:00</text>
<text x="13.5" y="41.6" font-size="9.6" fill="#000" textLength="203" lengthAdjust="spacingAndGlyphs" xml:space="preserve">GBPUSD-,H4&#160;&#160;1.21490 1.21496 1.21151 1.21257</text>
<path d="M1,41 L8,41 L4.5,36.5 Z" fill="#000"/>
<text x="2.5" y="598" font-size="9.6" fill="#000" textLength="153" lengthAdjust="spacingAndGlyphs" >MACD(12,26,9) -0.005497 -0.006229</text>
<text x="2.5" y="783" font-size="9.6" fill="#000" textLength="67" lengthAdjust="spacingAndGlyphs" >RSI(14) 33.0522</text>
<rect x="0" y="0" width="1673" height="28" fill="#f0f0f0"/>
<rect x="0" y="0" width="1673" height="1" fill="#fff"/>
<rect x="0" y="25" width="1673" height="1" fill="#dcdcdc"/>
<rect x="0" y="26" width="1673" height="1" fill="#9a9a9a"/>
<rect x="0" y="27" width="1673" height="1" fill="#696969"/>
<rect x="0" y="28" width="1673" height="2" fill="#fff"/>
<g><path d="M-2,6.5 H5.5 L8.5,9.5 V18.5 H-2 Z" fill="#fff" stroke="#9a9a9a"/><path d="M5.5,6.5 V9.5 H8.5" fill="none" stroke="#9a9a9a"/><path d="M0,10.5 h4 M0,12.5 h5 M0,14.5 h3" stroke="#aaa"/><path d="M1.8,16.2 h3.7 v-3.7 h3.6 v3.7 h3.7 v3.6 h-3.7 v3.7 h-3.6 v-3.7 h-3.7 z" fill="#22d022" stroke="#0a8a0a" stroke-width="0.8"/></g>
<text x="15.5 27.6 39.7" y="16.8" font-size="12.3" fill="#000" style="font-family:'Liberation Sans','Noto Sans CJK SC',sans-serif">新订单</text>
<g><path d="M64.5,15 L71,7.5 L79.5,12.5 L73,21 Z" fill="#e8b23a" stroke="#a87408" stroke-width="1"/><path d="M64.5,15 L73,21 L73.5,19.5 L66,14" fill="#fbe9b0" stroke="#a87408" stroke-width="0.6"/><path d="M67,14 L72.5,8.5" stroke="#f8d878" stroke-width="1.5"/></g>
<g><rect x="95.5" y="6" width="9" height="10" rx="1" fill="#3a8be0" stroke="#1c5fb0"/><rect x="97.5" y="8" width="5" height="2" fill="#cfe6ff"/><rect x="97.5" y="11" width="5" height="1" fill="#cfe6ff"/><path d="M94,21.5 a3,3 0 0 1 0.5,-6 a4,4 0 0 1 7,-1 a3.3,3.3 0 0 1 5,3 a2.2,2.2 0 0 1 -0.5,4 z" fill="#e8f0fb" stroke="#6a8cc0" stroke-width="1"/></g>
<g fill="none"><circle cx="127.5" cy="14" r="7" stroke="#a9c4e4" stroke-width="1.4"/><circle cx="127.5" cy="14" r="4.3" stroke="#5b8fd0" stroke-width="1.4"/><circle cx="127.5" cy="14" r="1.8" fill="#2a62b8"/><path d="M127.5,14 V21.5 a7.5,7.5 0 0 0 7,-7" stroke="#4cb04c" stroke-width="1.6"/></g>
<g><path d="M148,13 L163,13 L158,20.5 L153,20.5 Z" fill="#f2c53d" stroke="#b8860b" stroke-width="0.8"/><ellipse cx="155.5" cy="10.5" rx="7.5" ry="3" fill="#5a9bdc" stroke="#2e6db4" stroke-width="0.8"/><path d="M151.5,9.5 a4,4 0 0 1 8,0 z" fill="#7db4ea" stroke="#2e6db4" stroke-width="0.8"/><circle cx="159.5" cy="17.5" r="4" fill="#e02020" stroke="#a00000" stroke-width="0.6"/><rect x="158" y="16" width="3" height="3" fill="#fff"/></g>
<text x="168.3 180.05 191.8 203.55" y="17" font-size="12.3" fill="#000" style="font-family:'Liberation Sans','Noto Sans CJK SC',sans-serif">自动交易</text>
<rect x="223" y="1" width="1" height="25" fill="#909090" shape-rendering="crispEdges"/><rect x="224" y="1" width="1" height="25" fill="#fff" shape-rendering="crispEdges"/>
<g fill="#a8a8a8" shape-rendering="crispEdges">
<rect x="227" y="4" width="3" height="1"/>
<rect x="227" y="6" width="3" height="1"/>
<rect x="227" y="8" width="3" height="1"/>
<rect x="227" y="10" width="3" height="1"/>
<rect x="227" y="12" width="3" height="1"/>
<rect x="227" y="14" width="3" height="1"/>
<rect x="227" y="16" width="3" height="1"/>
<rect x="227" y="18" width="3" height="1"/>
<rect x="227" y="20" width="3" height="1"/>
<rect x="227" y="22" width="3" height="1"/>
</g>
<g stroke="#555" stroke-width="1" fill="none"><path d="M241.5,8.5 V21.5 M239,19.5 H253"/><path d="M240,10.5 l1.5,-2.5 l1.5,2.5 M251,18 l2,1.5 l-2,1.5" /></g>
<path d="M246.5,10 V17.5 M246.5,10.5 h2.5 M244,17 h2.5" stroke="#1a8a1a" stroke-width="1.3" fill="none"/>
<rect x="261" y="2" width="26" height="23" fill="#f8f8f8" shape-rendering="crispEdges"/>
<rect x="261" y="24" width="26" height="1" fill="#fff" shape-rendering="crispEdges"/><rect x="286" y="2" width="1" height="23" fill="#fff" shape-rendering="crispEdges"/>
<rect x="261" y="2" width="25" height="1" fill="#a0a0a0" shape-rendering="crispEdges"/><rect x="261" y="2" width="1" height="22" fill="#a0a0a0" shape-rendering="crispEdges"/>
<g stroke="#555" stroke-width="1" fill="none"><path d="M269.5,8.5 V21.5 M267,19.5 H281"/><path d="M268,10.5 l1.5,-2.5 l1.5,2.5 M279,18 l2,1.5 l-2,1.5" /></g>
<path d="M275.5,6.5 V18" stroke="#0a6a0a" stroke-width="1"/><rect x="273.5" y="8.5" width="4" height="7" fill="#30d030" stroke="#0a7a0a" stroke-width="1"/>
<g stroke="#555" stroke-width="1" fill="none"><path d="M297.5,8.5 V21.5 M295,19.5 H309"/><path d="M296,10.5 l1.5,-2.5 l1.5,2.5 M307,18 l2,1.5 l-2,1.5" /></g>
<path d="M296,17 C299,12 301,9.5 303,11.5 S306,15 308,15.5" stroke="#1a8a1a" stroke-width="1.2" fill="none"/>
<rect x="318" y="3" width="1" height="21" fill="#a0a0a0" shape-rendering="crispEdges"/>
<g><path d="M336.5,15.5 L342.0,21" stroke="#c89a18" stroke-width="3" stroke-linecap="round"/><path d="M336.5,15.5 L342.0,21" stroke="#f4d868" stroke-width="1" stroke-linecap="round"/><circle cx="332.5" cy="11.5" r="5" fill="#dcecfc" stroke="#2f74c8" stroke-width="1.5"/>
<path d="M330.0,11.5 h5" stroke="#2f74c8" stroke-width="1.6"/>
<path d="M332.5,9 v5" stroke="#2f74c8" stroke-width="1.6"/>
</g>
<g><path d="M364.5,15.5 L370.0,21" stroke="#c89a18" stroke-width="3" stroke-linecap="round"/><path d="M364.5,15.5 L370.0,21" stroke="#f4d868" stroke-width="1" stroke-linecap="round"/><circle cx="360.5" cy="11.5" r="5" fill="#dcecfc" stroke="#2f74c8" stroke-width="1.5"/>
<path d="M358.0,11.5 h5" stroke="#2f74c8" stroke-width="1.6"/>
</g>
<g shape-rendering="crispEdges"><rect x="383" y="6" width="8" height="8" fill="#4ea62a"/><rect x="391" y="6" width="8" height="8" fill="#2d63d6"/><rect x="383" y="14" width="8" height="8" fill="#2d63d6"/><rect x="391" y="14" width="8" height="8" fill="#4ea62a"/><g fill="#fff"><rect x="384" y="9" width="6" height="4"/><rect x="392" y="9" width="6" height="4"/><rect x="384" y="17" width="6" height="4"/><rect x="392" y="17" width="6" height="4"/></g><g fill="#9ab"><rect x="385" y="11" width="4" height="1"/><rect x="393" y="11" width="4" height="1"/><rect x="385" y="19" width="4" height="1"/><rect x="393" y="19" width="4" height="1"/></g></g>
<rect x="408" y="3" width="1" height="21" fill="#a0a0a0" shape-rendering="crispEdges"/>
<rect x="413" y="2" width="26" height="23" fill="#f8f8f8" shape-rendering="crispEdges"/>
<rect x="413" y="24" width="26" height="1" fill="#fff" shape-rendering="crispEdges"/><rect x="438" y="2" width="1" height="23" fill="#fff" shape-rendering="crispEdges"/>
<rect x="413" y="2" width="25" height="1" fill="#a0a0a0" shape-rendering="crispEdges"/><rect x="413" y="2" width="1" height="22" fill="#a0a0a0" shape-rendering="crispEdges"/>
<g stroke="#555" stroke-width="1" fill="none"><path d="M421.5,8.5 V21.5 M419,19.5 H433"/><path d="M420,10.5 l1.5,-2.5 l1.5,2.5 M431,18 l2,1.5 l-2,1.5" /></g>
<path d="M426.3,10.3 L430,13.5 L426.3,16.7 Z" fill="#7cf08c" stroke="#10a010" stroke-width="1"/>
<rect x="441" y="2" width="26" height="23" fill="#f8f8f8" shape-rendering="crispEdges"/>
<rect x="441" y="24" width="26" height="1" fill="#fff" shape-rendering="crispEdges"/><rect x="466" y="2" width="1" height="23" fill="#fff" shape-rendering="crispEdges"/>
<rect x="441" y="2" width="25" height="1" fill="#a0a0a0" shape-rendering="crispEdges"/><rect x="441" y="2" width="1" height="22" fill="#a0a0a0" shape-rendering="crispEdges"/>
<g stroke="#555" stroke-width="1" fill="none"><path d="M449.5,8.5 V21.5 M447,19.5 H461"/><path d="M448,10.5 l1.5,-2.5 l1.5,2.5 M459,18 l2,1.5 l-2,1.5" /></g>
<path d="M455.5,8 V18" stroke="#1c5fb0" stroke-width="1.2"/><path d="M461,13.5 h-4.5 M458.5,11.5 l-2,2 l2,2" stroke="#d02020" stroke-width="1.1" fill="none"/>
<rect x="470" y="3" width="1" height="21" fill="#a0a0a0" shape-rendering="crispEdges"/>
<g><path d="M480.5,7 H487 L490.5,10.5 V19 H480.5 Z" fill="#fff" stroke="#8a8a8a"/><path d="M483,10 q1,-1.5 2,0 v6 q-1,1.5 -2,0 M482,13 h3" stroke="#555" fill="none" stroke-width="0.9"/><path d="M485,16 h3.5 v-3.5 h3 v3.5 h3.5 v3 h-3.5 v3.5 h-3 v-3.5 h-3.5 z" fill="#22c322" stroke="#0a8a0a" stroke-width="0.8"/></g>
<path d="M502,12.5 h5 l-2.5,3 z" fill="#000"/>
<g><circle cx="526" cy="14" r="7.3" fill="#2a6fd0" stroke="#174a9a" stroke-width="1"/><circle cx="526" cy="14" r="5" fill="#f4f8ff"/><path d="M526,10.5 V14.3 H529" stroke="#333" stroke-width="1" fill="none"/></g>
<path d="M541,12.5 h5 l-2.5,3 z" fill="#000"/>
<g shape-rendering="crispEdges"><rect x="557.5" y="7.5" width="15" height="13" fill="#fff" stroke="#3a7ad0"/><rect x="558" y="8" width="14" height="2" fill="#6aa0e8"/><rect x="558" y="14" width="14" height="1" fill="#6aa0e8"/></g><path d="M559.5,12.5 l2.5,-1 l2,0.8 l2.5,-1.3 l2,0.6 l2,-1" stroke="#c03018" fill="none" stroke-width="1"/><path d="M559.5,18.5 l2.5,-1.2 l2,0.8 l2.5,-1.6 l2,1.4 l2,-0.6" stroke="#1a9a1a" fill="none" stroke-width="1"/>
<path d="M580,12.5 h5 l-2.5,3 z" fill="#000"/>
<rect x="591" y="1" width="1" height="25" fill="#909090" shape-rendering="crispEdges"/><rect x="592" y="1" width="1" height="25" fill="#fff" shape-rendering="crispEdges"/>
<g fill="#a8a8a8" shape-rendering="crispEdges">
<rect x="595" y="4" width="3" height="1"/>
<rect x="595" y="6" width="3" height="1"/>
<rect x="595" y="8" width="3" height="1"/>
<rect x="595" y="10" width="3" height="1"/>
<rect x="595" y="12" width="3" height="1"/>
<rect x="595" y="14" width="3" height="1"/>
<rect x="595" y="16" width="3" height="1"/>
<rect x="595" y="18" width="3" height="1"/>
<rect x="595" y="20" width="3" height="1"/>
<rect x="595" y="22" width="3" height="1"/>
</g>
<rect x="601" y="2" width="26" height="23" fill="#f8f8f8" shape-rendering="crispEdges"/>
<rect x="601" y="24" width="26" height="1" fill="#fff" shape-rendering="crispEdges"/><rect x="626" y="2" width="1" height="23" fill="#fff" shape-rendering="crispEdges"/>
<rect x="601" y="2" width="25" height="1" fill="#a0a0a0" shape-rendering="crispEdges"/><rect x="601" y="2" width="1" height="22" fill="#a0a0a0" shape-rendering="crispEdges"/>
<path d="M609,6.8 V18.2 L611.6,15.8 L613.9,20.9 L615.9,20 L613.7,15 L617.2,14.8 Z" fill="#4a4a4a"/>
<path d="M641.5,7 V13 M641.5,16 V22 M634,14.5 H640 M643,14.5 H649" stroke="#444" stroke-width="1" shape-rendering="crispEdges"/><rect x="641" y="14" width="1" height="1" fill="#777"/>
<rect x="658" y="3" width="1" height="21" fill="#a0a0a0" shape-rendering="crispEdges"/>
<rect x="675" y="8" width="1" height="13" fill="#444" shape-rendering="crispEdges"/>
<rect x="698" y="14" width="12" height="1" fill="#444" shape-rendering="crispEdges"/>
<path d="M726,20.8 L738,9" stroke="#555" stroke-width="1.1"/>
<g stroke="#555" stroke-width="1" fill="none"><path d="M751.5,16.5 L764,6.8 M755,21 L766.5,12"/><path d="M756,11 L756.4,20.5 M759.6,8.2 L760,17.8 M763,5.6 L763.4,14.8" stroke-width="0.9"/><path d="M752.5,19 L758,14.6 M757.5,16 L763,11.6 M761,12.4 L766,8.4" stroke-width="0.8"/></g>
<text x="762.8" y="22.5" font-size="6.5" fill="#333" font-weight="bold" >E</text>
<g fill="#666" shape-rendering="crispEdges">
<rect x="781" y="7" width="1" height="1"/>
<rect x="783" y="7" width="1" height="1"/>
<rect x="785" y="7" width="1" height="1"/>
<rect x="787" y="7" width="1" height="1"/>
<rect x="789" y="7" width="1" height="1"/>
<rect x="791" y="7" width="1" height="1"/>
<rect x="793" y="7" width="1" height="1"/>
<rect x="781" y="11" width="1" height="1"/>
<rect x="783" y="11" width="1" height="1"/>
<rect x="785" y="11" width="1" height="1"/>
<rect x="787" y="11" width="1" height="1"/>
<rect x="789" y="11" width="1" height="1"/>
<rect x="791" y="11" width="1" height="1"/>
<rect x="793" y="11" width="1" height="1"/>
<rect x="781" y="14" width="1" height="1"/>
<rect x="783" y="14" width="1" height="1"/>
<rect x="785" y="14" width="1" height="1"/>
<rect x="787" y="14" width="1" height="1"/>
<rect x="789" y="14" width="1" height="1"/>
<rect x="791" y="14" width="1" height="1"/>
<rect x="793" y="14" width="1" height="1"/>
<rect x="781" y="18" width="1" height="1"/>
<rect x="783" y="18" width="1" height="1"/>
<rect x="785" y="18" width="1" height="1"/>
<rect x="787" y="18" width="1" height="1"/>
<rect x="789" y="18" width="1" height="1"/>
</g>
<text x="790.7" y="22.5" font-size="6.5" fill="#333" font-weight="bold" >F</text>
<text x="812" y="18.7" font-size="12" fill="#555" textLength="7.6" lengthAdjust="spacingAndGlyphs" stroke="#555" stroke-width="0.35">A</text>
<rect x="838.5" y="8.5" width="11" height="12" fill="none" stroke="#666" stroke-dasharray="1,1" shape-rendering="crispEdges"/>
<text x="840.3" y="18.7" font-size="10.6" fill="#555" textLength="7.6" lengthAdjust="spacingAndGlyphs" stroke="#555" stroke-width="0.35">T</text>
<path d="M868.6,8 l3.3,2.6 l-3.3,1.8 l-3.3,-1.8 z M875.8,20.3 l3.3,-2.6 l-3.3,-1.8 l-3.3,1.8 z" fill="#444"/><path d="M867,15.8 l2.1,2 l4.8,-5.8" stroke="#444" stroke-width="1.4" fill="none"/>
<path d="M886,12.5 h5 l-2.5,3 z" fill="#000"/>
<rect x="897" y="1" width="1" height="25" fill="#909090" shape-rendering="crispEdges"/><rect x="898" y="1" width="1" height="25" fill="#fff" shape-rendering="crispEdges"/>
<g fill="#a8a8a8" shape-rendering="crispEdges">
<rect x="901" y="4" width="3" height="1"/>
<rect x="901" y="6" width="3" height="1"/>
<rect x="901" y="8" width="3" height="1"/>
<rect x="901" y="10" width="3" height="1"/>
<rect x="901" y="12" width="3" height="1"/>
<rect x="901" y="14" width="3" height="1"/>
<rect x="901" y="16" width="3" height="1"/>
<rect x="901" y="18" width="3" height="1"/>
<rect x="901" y="20" width="3" height="1"/>
<rect x="901" y="22" width="3" height="1"/>
</g>
<rect x="1047" y="2" width="26" height="23" fill="#f8f8f8" shape-rendering="crispEdges"/>
<rect x="1047" y="24" width="26" height="1" fill="#fff" shape-rendering="crispEdges"/><rect x="1072" y="2" width="1" height="23" fill="#fff" shape-rendering="crispEdges"/>
<rect x="1047" y="2" width="25" height="1" fill="#a0a0a0" shape-rendering="crispEdges"/><rect x="1047" y="2" width="1" height="22" fill="#a0a0a0" shape-rendering="crispEdges"/>
<text x="912.6" y="17.7" font-size="9.3" fill="#3c3c3c" textLength="13" lengthAdjust="spacingAndGlyphs" >M1</text>
<text x="940.7" y="17.7" font-size="9.3" fill="#3c3c3c" textLength="13" lengthAdjust="spacingAndGlyphs" >M5</text>
<text x="967" y="17.7" font-size="9.3" fill="#3c3c3c" textLength="17.6" lengthAdjust="spacingAndGlyphs" >M15</text>
<text x="994.6" y="17.7" font-size="9.3" fill="#3c3c3c" textLength="17.6" lengthAdjust="spacingAndGlyphs" >M30</text>
<text x="1025.6" y="17.7" font-size="9.3" fill="#3c3c3c" textLength="11.7" lengthAdjust="spacingAndGlyphs" >H1</text>
<text x="1052.3" y="17.7" font-size="9.3" fill="#3c3c3c" textLength="12.6" lengthAdjust="spacingAndGlyphs" >H4</text>
<text x="1081.6" y="17.7" font-size="9.3" fill="#3c3c3c" textLength="11.7" lengthAdjust="spacingAndGlyphs" >D1</text>
<text x="1109.2" y="17.7" font-size="9.3" fill="#3c3c3c" textLength="13.8" lengthAdjust="spacingAndGlyphs" >W1</text>
<text x="1135.7" y="17.7" font-size="9.3" fill="#3c3c3c" textLength="14.5" lengthAdjust="spacingAndGlyphs" >MN</text>
<rect x="1158" y="3" width="1" height="21" fill="#a0a0a0" shape-rendering="crispEdges"/>
<g><circle cx="1628.5" cy="11.4" r="3.8" fill="#f2f2f4" stroke="#2a62d8" stroke-width="1.3"/><path d="M1625.6,14.4 L1621,18.8" stroke="#2a62d8" stroke-width="2.2"/></g>
<g><ellipse cx="1661" cy="10.8" rx="6.2" ry="4.6" fill="url(#gbub)" stroke="#8c8c8c" stroke-width="1"/><path d="M1663,14.5 l2.2,3 l-0.2,-3.6" fill="#777"/><ellipse cx="1652" cy="15.3" rx="5" ry="3.8" fill="url(#gbub)" stroke="#8c8c8c" stroke-width="1"/><path d="M1649,18.5 l-0.3,2.4 l2.3,-2" fill="#666"/></g>
<g shape-rendering="crispEdges">
<rect x="0" y="47" width="221" height="67" fill="#fff"/>
<rect x="1" y="50" width="51" height="25" fill="url(#gt)"/>
<rect x="169" y="50" width="51" height="25" fill="url(#gt)"/>
<rect x="1" y="74" width="109" height="40" fill="url(#gr)"/>
<rect x="112" y="74" width="108" height="40" fill="url(#gr)"/>
<rect x="5" y="73" width="44" height="1" fill="#b01818"/>
<rect x="172" y="73" width="44" height="1" fill="#b01818"/>
<rect x="1" y="50" width="51" height="1" fill="#c83030"/><rect x="169" y="50" width="51" height="1" fill="#c83030"/>
<rect x="1" y="113" width="109" height="1" fill="#960000"/><rect x="112" y="113" width="108" height="1" fill="#960000"/>
<rect x="55.5" y="50.5" width="110" height="21" fill="#e9e9e9" stroke="#b8b8b8"/>
<rect x="77" y="51" width="68" height="20" fill="#fff"/>
<rect x="76" y="51" width="1" height="20" fill="#c0c0c0"/><rect x="145" y="51" width="1" height="20" fill="#c0c0c0"/>
</g>
<path d="M63.5,59.5 h5 l-2.5,3 z" fill="#222"/><path d="M151.5,62.5 h5 l-2.5,-3 z" fill="#222"/>
<text x="140.8" y="65.5" font-size="12.3" fill="#111" text-anchor="end" textLength="23.5" lengthAdjust="spacingAndGlyphs" >1.00</text>
<text x="26" y="66" font-size="12.3" fill="#fff" text-anchor="middle" textLength="26.5" lengthAdjust="spacingAndGlyphs" >SELL</text>
<text x="193.5" y="66" font-size="12.3" fill="#fff" text-anchor="middle" textLength="23.5" lengthAdjust="spacingAndGlyphs" >BUY</text>
<text x="21.5" y="105.2" font-size="12" fill="#fff" textLength="22.5" lengthAdjust="spacingAndGlyphs" font-weight="bold" stroke="#fff" stroke-width="0.3">1.21</text>
<text x="131.5" y="105.2" font-size="12" fill="#fff" textLength="22.5" lengthAdjust="spacingAndGlyphs" font-weight="bold" stroke="#fff" stroke-width="0.3">1.21</text>
<text x="49.5" y="106.8" font-size="36.5" fill="#fff" textLength="32.5" lengthAdjust="spacingAndGlyphs" >25</text>
<text x="160.3" y="106.8" font-size="36.5" fill="#fff" textLength="32.5" lengthAdjust="spacingAndGlyphs" >38</text>
<text x="88.3" y="88.6" font-size="12.5" fill="#fff" font-weight="bold" >7</text>
<text x="198.8" y="88.6" font-size="12.5" fill="#fff" font-weight="bold" >5</text>
</svg></body></html>
